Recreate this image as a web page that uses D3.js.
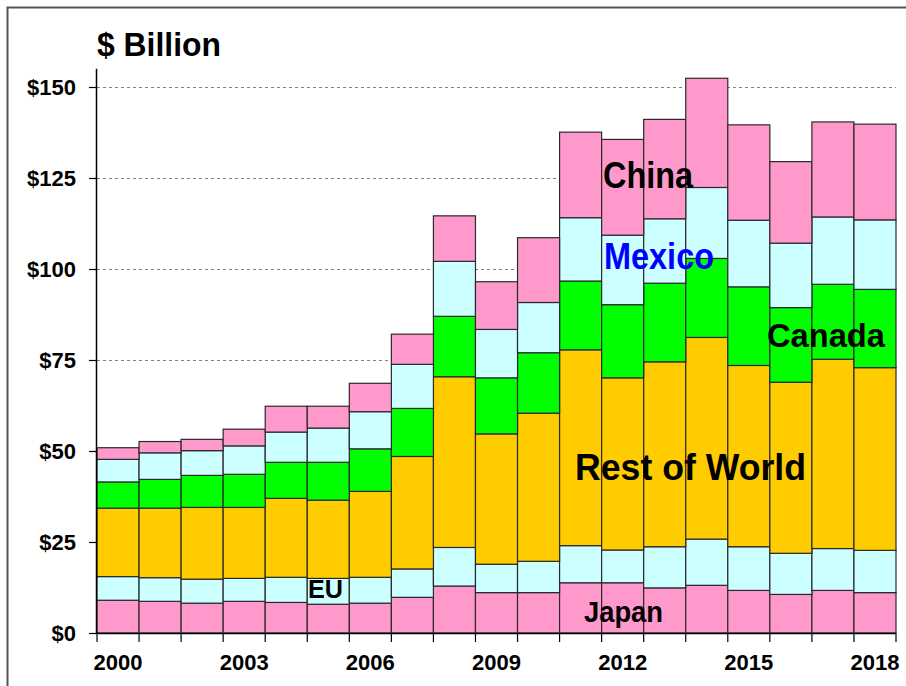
<!DOCTYPE html>
<html>
<head>
<meta charset="utf-8">
<script src="https://cdn.jsdelivr.net/npm/d3@7/dist/d3.min.js"></script>
<style>
  html, body { margin: 0; padding: 0; background: #fff; }
  svg { display: block; font-family: "Liberation Sans", Arial, sans-serif; }
</style>
</head>
<body>
<svg id="chart" width="906" height="686"></svg>
<script>
// Annual values, $ billion, stacked from the bottom up
const years = ["2000","2001","2002","2003","2004","2005","2006","2007","2008","2009",
               "2010","2011","2012","2013","2014","2015","2016","2017","2018"];
const japan   = [9.0, 8.7, 8.2, 8.7, 8.4, 7.9, 8.2, 9.8, 12.9, 11.1, 11.1, 13.8, 13.8, 12.4, 13.1, 11.7, 10.6, 11.7, 11.1];
const eu      = [6.5, 6.5, 6.6, 6.3, 6.9, 7.1, 7.1, 7.8, 10.6, 7.8, 8.6, 10.2, 9.0, 11.3, 12.7, 12.0, 11.3, 11.5, 11.6];
const restOfWorld = [18.8, 19.1, 19.7, 19.5, 21.7, 21.5, 23.6, 30.9, 46.9, 35.8, 40.7, 53.8, 47.3, 50.8, 55.4, 49.8, 47.0, 52.0, 50.2];
const canada  = [7.2, 7.9, 8.8, 9.1, 9.9, 10.4, 11.7, 13.2, 16.6, 15.4, 16.6, 18.9, 20.1, 21.6, 21.7, 21.6, 20.5, 20.6, 21.5];
const mexico  = [6.2, 7.3, 6.8, 7.8, 8.3, 9.4, 10.2, 12.1, 15.1, 13.3, 13.8, 17.4, 19.1, 17.7, 19.5, 18.3, 17.7, 18.5, 19.1];
const china   = [3.2, 3.1, 3.1, 4.6, 7.1, 6.0, 7.8, 8.3, 12.5, 13.1, 17.8, 23.5, 26.3, 27.3, 30.0, 26.2, 22.4, 26.1, 26.3];

const seriesKeys = ["Japan", "EU", "Rest of World", "Canada", "Mexico", "China"];
const seriesValues = [japan, eu, restOfWorld, canada, mexico, china];
const seriesColors = ["#FF99CC", "#CCFFFF", "#FFCC00", "#00FF00", "#CCFFFF", "#FF99CC"];
const yTicks = [0, 25, 50, 75, 100, 125, 150];
const xLabelYears = ["2000", "2003", "2006", "2009", "2012", "2015", "2018"];

const rows = years.map((yr, i) => {
  const r = { year: yr };
  seriesKeys.forEach((k, j) => { r[k] = seriesValues[j][i]; });
  return r;
});

const svg = d3.select("#chart");
const left = 97, right = 896, bottom = 633;

const x = d3.scaleBand().domain(years).range([left, right]).padding(0);
const y = d3.scaleLinear().domain([0, 155]).range([bottom, bottom - 155 * 3.64]);

// outer frame
svg.append("rect")
  .attr("x", 7.5).attr("y", 7.5).attr("width", 910).attr("height", 690)
  .attr("fill", "none").attr("stroke", "#555").attr("stroke-width", 2);

// dotted gridlines
svg.append("g").selectAll("line")
  .data(yTicks.filter(t => t > 0))
  .join("line")
  .attr("x1", left).attr("x2", right)
  .attr("y1", d => Math.round(y(d)) + 0.5).attr("y2", d => Math.round(y(d)) + 0.5)
  .attr("stroke", "#808080").attr("stroke-width", 1).attr("stroke-dasharray", "3,3");

// stacked bars
const stacked = d3.stack().keys(seriesKeys)(rows);
svg.append("g").selectAll("g")
  .data(stacked)
  .join("g")
  .attr("fill", (d, i) => seriesColors[i])
  .selectAll("rect")
  .data(d => d)
  .join("rect")
  .attr("x", d => x(d.data.year))
  .attr("width", x.bandwidth())
  .attr("y", d => y(d[1]))
  .attr("height", d => y(d[0]) - y(d[1]))
  .attr("stroke", "#2a2a2a").attr("stroke-width", 1.2);

// y axis
const yAxis = d3.axisLeft(y).tickValues(yTicks).tickSize(8).tickPadding(13)
  .tickFormat(d => "$" + d);
const gy = svg.append("g").attr("transform", `translate(${left},0)`).call(yAxis);
gy.select(".domain").attr("d", `M-0.5,${y(155)}V${bottom}`).attr("stroke", "#000").attr("stroke-width", 1.5);
gy.selectAll(".tick line").attr("stroke", "#000").attr("stroke-width", 1.2);
gy.selectAll(".tick text")
  .attr("font-size", 22).attr("font-weight", "bold").attr("fill", "#000")
  .attr("font-family", "'Liberation Sans', Arial, sans-serif")
  .attr("dy", "0.36em");

// x axis: ticks on every bar boundary, labels every third year
const gx = svg.append("g");
gx.append("line").attr("x1", left).attr("x2", right)
  .attr("y1", bottom + 0.5).attr("y2", bottom + 0.5)
  .attr("stroke", "#000").attr("stroke-width", 1.5);
const bounds = years.map(yr => x(yr)).concat([right]);
gx.selectAll("line.tk").data(bounds).join("line").attr("class", "tk")
  .attr("x1", d => d).attr("x2", d => d)
  .attr("y1", bottom).attr("y2", bottom + 9)
  .attr("stroke", "#000").attr("stroke-width", 1.2);
gx.selectAll("text").data(xLabelYears).join("text")
  .attr("x", d => x(d) + x.bandwidth() / 2)
  .attr("y", 670)
  .attr("text-anchor", "middle")
  .attr("font-size", 22).attr("font-weight", "bold").attr("fill", "#000")
  .text(d => d);

// unit title
svg.append("text")
  .attr("x", 97).attr("y", 56)
  .attr("font-size", 33).attr("font-weight", "bold").attr("fill", "#000")
  .attr("textLength", 124).attr("lengthAdjust", "spacingAndGlyphs")
  .text("$ Billion");

// series labels placed on the bars
const seriesLabels = [
  { text: "China", x: 603, y: 188, size: 36, len: 90, color: "#000" },
  { text: "Mexico", x: 604, y: 269, size: 36, len: 110, color: "#0000FF" },
  { text: "Canada", x: 767, y: 347, size: 33, len: 118, color: "#000" },
  { text: "Rest of World", x: 575, y: 480, size: 37, len: 231, color: "#000" },
  { text: "EU", x: 308, y: 598, size: 26, len: 35, color: "#000" },
  { text: "Japan", x: 584, y: 622, size: 29, len: 79, color: "#000" }
];
svg.append("g").selectAll("text")
  .data(seriesLabels)
  .join("text")
  .attr("x", d => d.x).attr("y", d => d.y)
  .attr("font-size", d => d.size).attr("font-weight", "bold")
  .attr("fill", d => d.color)
  .attr("textLength", d => d.len).attr("lengthAdjust", "spacingAndGlyphs")
  .text(d => d.text);
</script>
</body>
</html>
